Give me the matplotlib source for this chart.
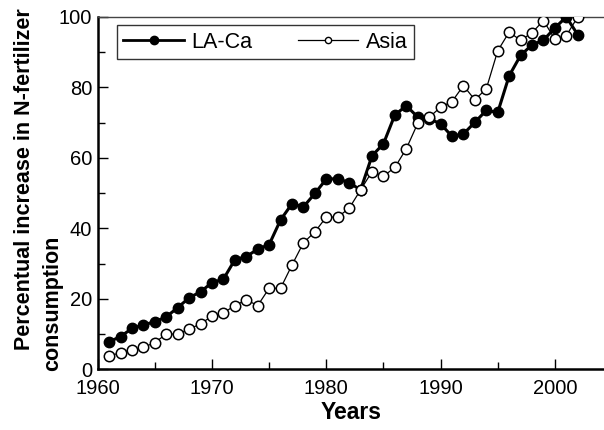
import matplotlib
matplotlib.use("Agg")
import matplotlib.pyplot as plt
from matplotlib.ticker import MultipleLocator
from matplotlib.lines import Line2D

plt.rcParams['font.family'] = ['Liberation Sans', 'DejaVu Sans']

years = list(range(1961, 2003))
laca = [7.8, 9.3, 11.6, 12.6, 13.5, 14.9, 17.5, 20.3, 22.0, 24.6,
        25.6, 31.1, 32.0, 34.1, 35.4, 42.4, 47.0, 46.1, 49.9, 54.0,
        54.1, 53.0, 50.9, 60.6, 64.0, 72.2, 74.8, 71.6, 71.1, 69.7,
        66.1, 66.8, 70.1, 73.5, 72.9, 83.3, 89.1, 92.1, 93.4, 96.9,
        100.0, 95.0]
asia = [3.8, 4.7, 5.5, 6.2, 7.6, 10.0, 10.0, 11.4, 12.9, 15.1,
        16.0, 18.1, 19.7, 18.1, 23.0, 23.0, 29.6, 35.9, 39.0, 43.2,
        43.2, 45.7, 50.9, 56.1, 54.8, 57.3, 62.6, 69.8, 71.5, 74.4,
        76.0, 80.5, 76.5, 79.6, 90.4, 95.7, 93.4, 95.5, 99.0, 93.7,
        94.7, 100.0]
ylabel_lines = ['Percentual increase in N-fertilizer', 'consumption']

fig = plt.figure(figsize=(6.04, 4.30), dpi=100)
ax = fig.add_axes([0.1618, 0.1412, 0.8382, 0.8193])

ax.plot(years, laca, color='black', lw=2.2, marker='o', ms=7.5,
        mfc='black', mec='black', label='LA-Ca', zorder=3)
ax.plot(years, asia, color='black', lw=0.9, marker='o', ms=7.5,
        mfc='white', mec='black', mew=1.1, label='Asia', zorder=4)

ax.set_xlim(1960, 2004.3)
ax.set_ylim(0, 100)
ax.xaxis.set_major_locator(MultipleLocator(10))
ax.xaxis.set_minor_locator(MultipleLocator(5))
ax.yaxis.set_major_locator(MultipleLocator(20))
ax.yaxis.set_minor_locator(MultipleLocator(10))
ax.tick_params(which='both', direction='in', top=False, right=False,
               labelsize=14.5, width=1.0)
ax.tick_params(which='major', length=7)
ax.tick_params(which='minor', length=5)
ax.tick_params(axis='x', pad=7)
ax.tick_params(axis='y', pad=4)

ax.spines['right'].set_visible(False)
ax.spines['left'].set_linewidth(1.8)
ax.spines['bottom'].set_linewidth(1.8)
ax.spines['top'].set_linewidth(1.0)
ax.spines['top'].set_color('#444444')

ax.set_xlabel('Years', fontsize=16.5, fontweight='bold', labelpad=2)

fig.text(25 / 604, 1 - 179 / 430, ylabel_lines[0], rotation=90,
         ha='center', va='center', fontsize=15.5, fontweight='bold')
fig.text(53 / 604, 1 - 371 / 430, ylabel_lines[1], rotation=90,
         ha='center', va='bottom', fontsize=15.5, fontweight='bold')

handles = [
    Line2D([], [], color='black', lw=2.0, marker='o', ms=6, mfc='black', mec='black'),
    Line2D([], [], color='black', lw=0.9, marker='o', ms=4.5, mfc='white', mec='black', mew=1.0),
]
leg = ax.legend(handles, ['LA-Ca', 'Asia'], loc='upper left',
                bbox_to_anchor=(0.038, 0.977), ncol=2,
                fontsize=15.5, frameon=True, fancybox=False, handlelength=2.8,
                columnspacing=2.1, borderpad=0.3, handletextpad=0.37,
                borderaxespad=0.0)
leg.get_frame().set_edgecolor('black')
leg.get_frame().set_linewidth(1.0)

fig.savefig('out.png', dpi=100)
